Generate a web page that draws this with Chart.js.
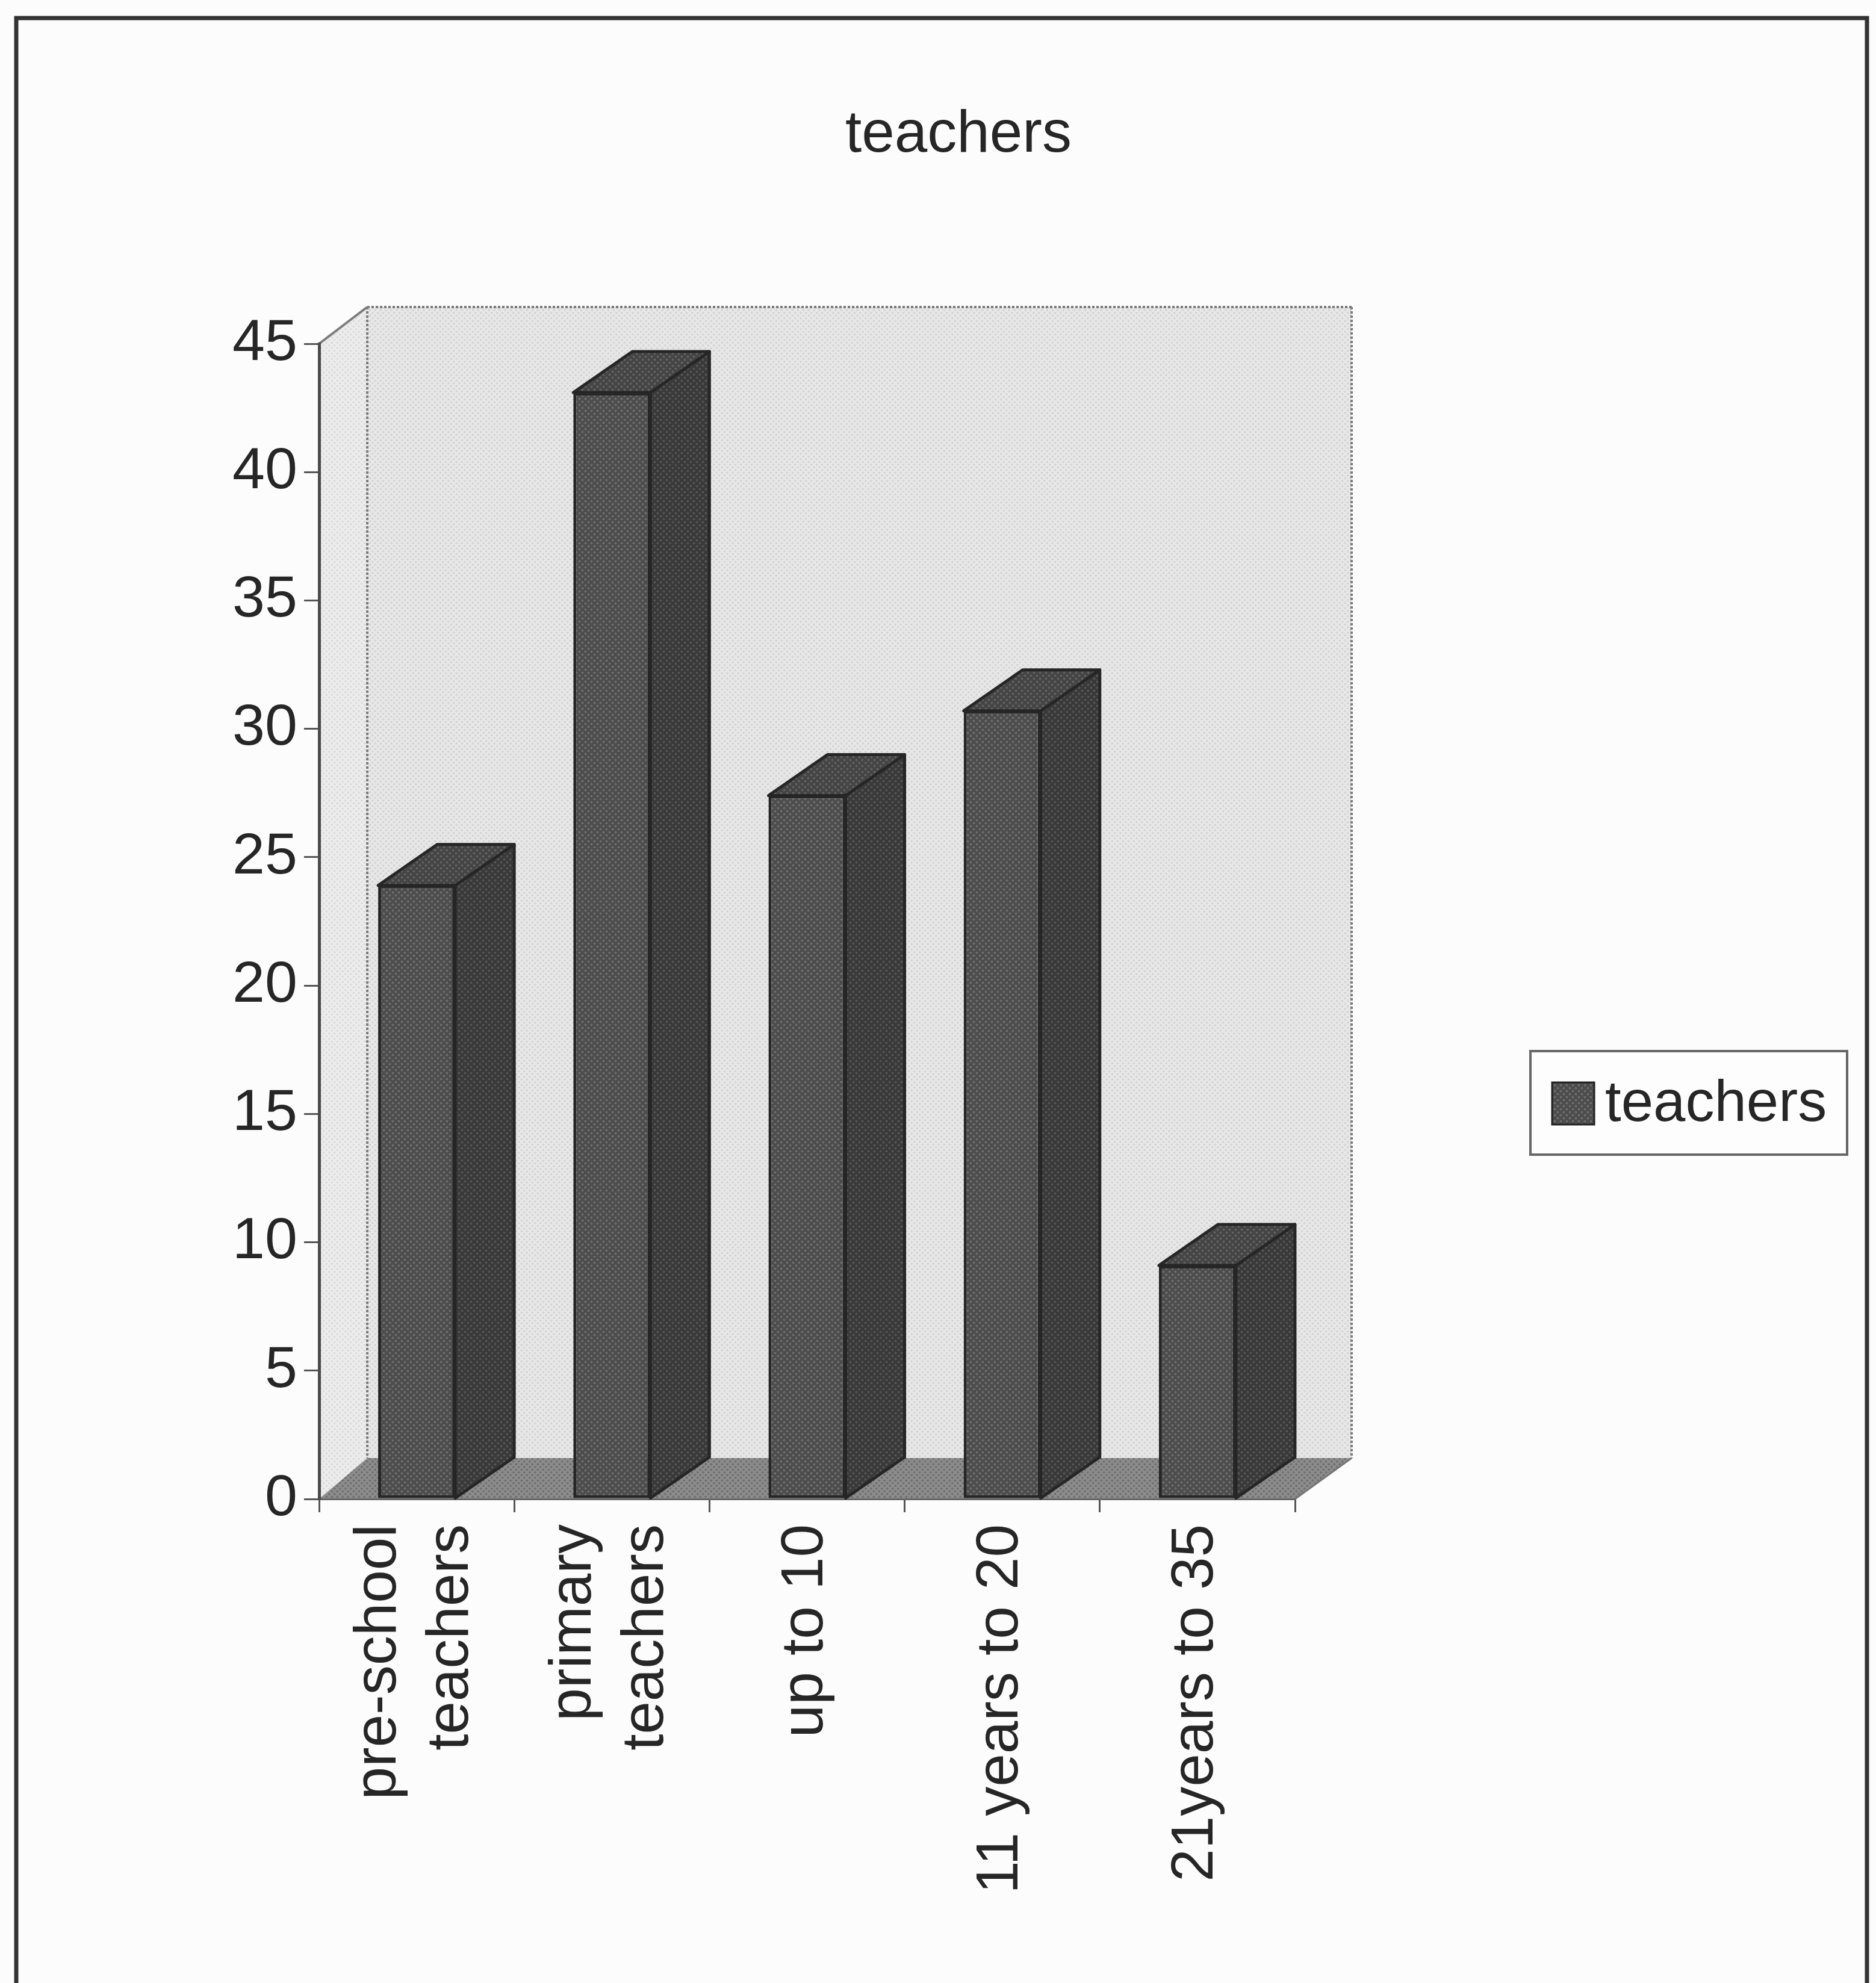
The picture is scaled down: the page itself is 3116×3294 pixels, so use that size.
<!DOCTYPE html>
<html>
<head>
<meta charset="utf-8">
<script src="https://cdn.jsdelivr.net/npm/chart.js@4.4.1/dist/chart.umd.min.js"></script>
<style>
  html, body { margin: 0; padding: 0; background: #fcfcfc; overflow: hidden; }
  canvas { display: block; }
</style>
</head>
<body>
<canvas id="chart" width="3116" height="3294"></canvas>
<script>
// ---- data ----
const chartTitle = 'teachers';
const seriesName = 'teachers';
const categories = [['pre-school', 'teachers'], ['primary', 'teachers'], 'up to 10', '11 years to 20', '21years to 35'];
const teacherCounts = [23.9, 43.1, 27.4, 30.7, 9.1];
const yTickValues = [0, 5, 10, 15, 20, 25, 30, 35, 40, 45];

// ---- look ----
const FONT = '"Liberation Sans", Arial, sans-serif';
const TEXT = '#262626';
// walls / floor recede a little more on the right and at the bottom (perspective)
const WALL_DXL = 80, WALL_DXR = 94, WALL_DYT = 61, WALL_DYB = 68;
const BAR_DX = 98, BAR_DY = 68;     // depth of the columns
const X_LINE_H = 120;

const canvas = document.getElementById('chart');
const ctx = canvas.getContext('2d');

// small dotted fill, like a printed screen
function halftone(base, dot, step) {
  const c = document.createElement('canvas');
  c.width = step; c.height = step;
  const g = c.getContext('2d');
  g.fillStyle = base; g.fillRect(0, 0, step, step);
  g.fillStyle = dot;
  const r = step * 0.2;
  g.beginPath(); g.arc(step * 0.25, step * 0.25, r, 0, Math.PI * 2); g.fill();
  g.beginPath(); g.arc(step * 0.75, step * 0.75, r, 0, Math.PI * 2); g.fill();
  return ctx.createPattern(c, 'repeat');
}

const fills = {
  front: halftone('#4c4c4c', '#6e6e6e', 10),
  side: halftone('#393939', '#555555', 10),
  top: halftone('#444444', '#626262', 10),
  back: halftone('#e7e7e7', '#d3d3d3', 9),
  wall: halftone('#ececec', '#dadada', 9),
  floor: halftone('#8c8c8c', '#6c6c6c', 9)
};

function poly(c, pts, fill, stroke, lw, dash) {
  c.save();
  c.beginPath();
  c.moveTo(pts[0][0], pts[0][1]);
  for (let i = 1; i < pts.length; i++) c.lineTo(pts[i][0], pts[i][1]);
  c.closePath();
  if (fill) { c.fillStyle = fill; c.fill(); }
  if (stroke) {
    c.strokeStyle = stroke; c.lineWidth = lw || 1;
    c.setLineDash(dash || []);
    c.lineJoin = 'round';
    c.stroke();
  }
  c.restore();
}

function line(c, x1, y1, x2, y2, color, lw, dash) {
  c.save();
  c.strokeStyle = color; c.lineWidth = lw; c.setLineDash(dash || []);
  c.beginPath(); c.moveTo(x1, y1); c.lineTo(x2, y2); c.stroke();
  c.restore();
}

// page, frame, walls and floor, under the axes
const backdrop = {
  id: 'backdrop',
  beforeDraw(chart) {
    const c = chart.ctx;
    const a = chart.chartArea;
    c.save();
    c.fillStyle = '#fcfcfc';
    c.fillRect(0, 0, chart.width, chart.height);
    c.strokeStyle = '#333';
    c.lineWidth = 7;
    c.strokeRect(27, 30, 3074, 3320);
    c.restore();

    const L = a.left, R = a.right, T = a.top, B = a.bottom;
    const bl = L + WALL_DXL, br = R + WALL_DXR, bt = T - WALL_DYT, bb = B - WALL_DYB;
    // side wall
    poly(c, [[L, T], [bl, bt], [bl, bb], [L, B]], fills.wall);
    // back wall
    poly(c, [[bl, bt], [br, bt], [br, bb], [bl, bb]], fills.back);
    // floor
    poly(c, [[L, B], [bl, bb], [br, bb], [R, B]], fills.floor);
    // edges
    const edge = '#7c7c7c';
    line(c, L, T, bl, bt, edge, 4);
    line(c, bl, bt, br, bt, edge, 4, [4, 3]);
    line(c, bl, bt, bl, bb, edge, 4, [4, 3]);
    line(c, br, bt, br, bb, edge, 4, [4, 3]);
    line(c, R, B, br, bb, '#777', 3);
  }
};

// side and top faces of each column, from the bar elements
const columnDepth = {
  id: 'columnDepth',
  beforeDatasetsDraw(chart) {
    const c = chart.ctx;
    chart.getDatasetMeta(0).data.forEach(bar => {
      const p = bar.getProps(['x', 'y', 'base', 'width'], true);
      const l = p.x - p.width / 2, r = p.x + p.width / 2, t = p.y, b = p.base;
      poly(c, [[r, t], [r + BAR_DX, t - BAR_DY], [r + BAR_DX, b - BAR_DY], [r, b]], fills.side, '#262626', 5);
      poly(c, [[l, t], [l + BAR_DX, t - BAR_DY], [r + BAR_DX, t - BAR_DY], [r, t]], fills.top, '#262626', 5);
    });
  }
};

// title, category labels and legend
const annotations = {
  id: 'annotations',
  afterDraw(chart) {
    const c = chart.ctx;
    const a = chart.chartArea;
    c.save();
    c.fillStyle = TEXT;

    c.font = '98px ' + FONT;
    c.textAlign = 'center';
    c.textBaseline = 'alphabetic';
    c.fillText(chartTitle, 1592, 252);

    const xs = chart.scales.x;
    c.font = '98px ' + FONT;
    categories.forEach((lab, i) => {
      const lines = Array.isArray(lab) ? lab : [lab];
      const px = xs.getPixelForTick(i);
      lines.forEach((ln, j) => {
        const cx = px + (j - (lines.length - 1) / 2) * X_LINE_H - 2;
        c.save();
        c.translate(cx, a.bottom + 42);
        c.rotate(-Math.PI / 2);
        c.textAlign = 'right';
        c.textBaseline = 'middle';
        c.fillText(ln, 0, 0);
        c.restore();
      });
    });

    // legend
    const bx = 2542, by = 1746, bw = 526, bh = 172;
    c.fillStyle = '#fdfdfd';
    c.fillRect(bx, by, bw, bh);
    c.strokeStyle = '#666';
    c.lineWidth = 4;
    c.strokeRect(bx, by, bw, bh);
    c.fillStyle = fills.front;
    c.fillRect(2578, 1798, 70, 70);
    c.strokeStyle = '#222';
    c.lineWidth = 3;
    c.strokeRect(2578, 1798, 70, 70);
    c.fillStyle = TEXT;
    c.font = '96px ' + FONT;
    c.textAlign = 'left';
    c.textBaseline = 'alphabetic';
    c.fillText(chart.data.datasets[0].label, 2666, 1862);
    c.restore();
  }
};

new Chart(ctx, {
  type: 'bar',
  data: {
    labels: categories,
    datasets: [{
      label: seriesName,
      data: teacherCounts,
      backgroundColor: fills.front,
      borderColor: '#262626',
      borderWidth: 5,
      borderSkipped: false,
      barPercentage: 0.395,
      categoryPercentage: 1.0
    }]
  },
  options: {
    responsive: false,
    devicePixelRatio: 1,
    animation: false,
    layout: { padding: { left: 0, top: 571, right: 965, bottom: 0 } },
    plugins: {
      legend: { display: false },
      title: { display: false },
      tooltip: { enabled: false }
    },
    scales: {
      x: {
        offset: true,
        ticks: { display: false },
        grid: { drawOnChartArea: false, drawTicks: true, tickLength: 22, color: '#555', lineWidth: 3 },
        border: { display: true, color: '#666', width: 3 },
        afterFit(s) { s.height = 804; }
      },
      y: {
        min: 0,
        max: 45,
        afterBuildTicks(s) { s.ticks = yTickValues.map(v => ({ value: v })); },
        ticks: { font: { family: FONT, size: 97 }, color: TEXT, padding: 11 },
        grid: { drawOnChartArea: false, drawTicks: true, tickLength: 25, color: '#555', lineWidth: 3 },
        border: { display: true, color: '#4a4a4a', width: 5 },
        afterFit(s) { s.width = 530; }
      }
    }
  },
  plugins: [backdrop, columnDepth, annotations]
});
</script>
</body>
</html>
